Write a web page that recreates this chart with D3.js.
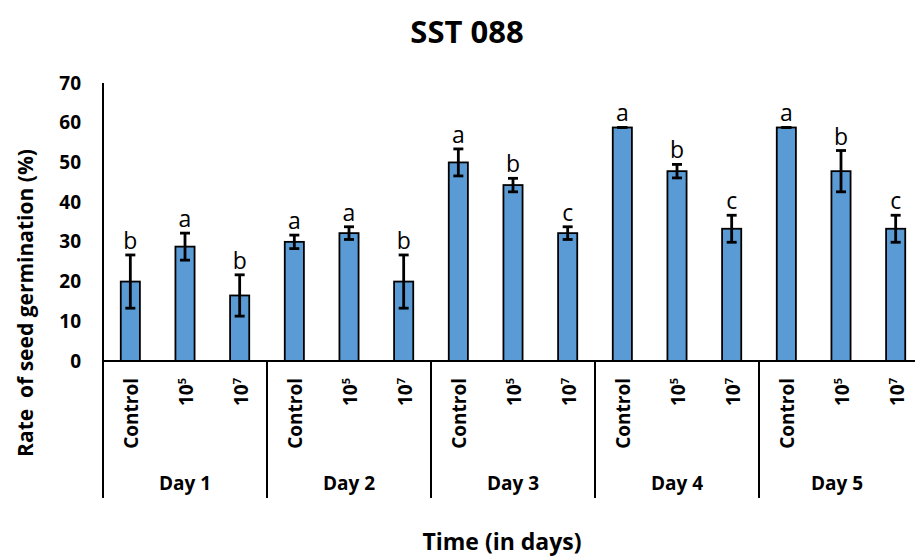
<!DOCTYPE html>
<html>
<head>
<meta charset="utf-8">
<script src="https://cdn.jsdelivr.net/npm/d3@7"></script>
<style>
  html, body { margin: 0; padding: 0; background: #fff; }
  svg { display: block; }
  text { font-family: "Open Sans", "DejaVu Sans", sans-serif; fill: #000; }
</style>
</head>
<body>
<svg id="chart" width="915" height="559"></svg>
<script>
// Germination data: one entry per day
const days = ["Day 1", "Day 2", "Day 3", "Day 4", "Day 5"];
const treatments = ["Control", "10^5", "10^7"];

const controlMean = [20.0, 30.0, 50.0, 58.8, 58.8];
const conc5Mean   = [28.8, 32.2, 44.3, 47.8, 47.8];
const conc7Mean   = [16.5, 20.0, 32.2, 33.3, 33.3];

const controlErr = [6.7, 1.7, 3.4, 0, 0];
const conc5Err   = [3.4, 1.6, 1.7, 1.7, 5.2];
const conc7Err   = [5.2, 6.7, 1.6, 3.4, 3.4];

const controlLetter = ["b", "a", "a", "a", "a"];
const conc5Letter   = ["a", "a", "b", "b", "b"];
const conc7Letter   = ["b", "b", "c", "c", "c"];

const yTicks = [0, 10, 20, 30, 40, 50, 60, 70];

const means = [controlMean, conc5Mean, conc7Mean];
const errs = [controlErr, conc5Err, conc7Err];
const letters = [controlLetter, conc5Letter, conc7Letter];

const rows = [];
days.forEach((d, di) => {
  treatments.forEach((t, ti) => {
    rows.push({ day: d, treat: t, mean: means[ti][di], err: errs[ti][di], letter: letters[ti][di] });
  });
});

const svg = d3.select("#chart");
const plotLeft = 103, plotRight = 923, plotTop = 83, plotBase = 361, axisBottom = 498;

const y = d3.scaleLinear().domain([0, 70]).range([plotBase, plotTop]);
const xDay = d3.scaleBand().domain(days).range([plotLeft, plotRight]).padding(0);
const xTreat = d3.scaleBand().domain(treatments).range([0, xDay.bandwidth()]).paddingInner(0.65).paddingOuter(0.325);

// Title
svg.append("text")
  .attr("x", 467).attr("y", 43)
  .attr("text-anchor", "middle")
  .style("font-size", "31px").style("font-weight", "bold")
  .text("SST 088");

// Y axis
const yAxis = d3.axisLeft(y).tickValues(yTicks).tickSize(0).tickPadding(22);
const yg = svg.append("g").attr("transform", `translate(${plotLeft},0)`).call(yAxis);
yg.select(".domain").remove();
yg.selectAll("text")
  .style("font-family", "'Open Sans', sans-serif")
  .style("font-size", "19px").style("font-weight", "bold").attr("fill", "#000");

svg.append("line")
  .attr("x1", plotLeft).attr("x2", plotLeft).attr("y1", plotTop).attr("y2", axisBottom)
  .attr("stroke", "#000").attr("stroke-width", 2);

// Bars
const bars = svg.append("g");
bars.selectAll("rect").data(rows).join("rect")
  .attr("x", d => xDay(d.day) + xTreat(d.treat))
  .attr("width", xTreat.bandwidth())
  .attr("y", d => y(d.mean))
  .attr("height", d => y(0) - y(d.mean))
  .attr("fill", "#5B9BD5")
  .attr("stroke", "#000").attr("stroke-width", 1.8);

// Error bars
const eb = svg.append("g").attr("stroke", "#000").attr("stroke-width", 2.8);
const cx = d => xDay(d.day) + xTreat(d.treat) + xTreat.bandwidth() / 2;
rows.forEach(d => {
  const g = eb.append("g");
  const yt = y(d.mean + d.err), yb = y(d.mean - d.err);
  g.append("line").attr("x1", cx(d)).attr("x2", cx(d)).attr("y1", yt).attr("y2", yb);
  g.append("line").attr("x1", cx(d) - 5).attr("x2", cx(d) + 5).attr("y1", yt).attr("y2", yt);
  g.append("line").attr("x1", cx(d) - 5).attr("x2", cx(d) + 5).attr("y1", yb).attr("y2", yb);
});

// Significance letters
svg.append("g").selectAll("text").data(rows).join("text")
  .attr("x", d => cx(d))
  .attr("y", d => y(d.mean + d.err) - 6)
  .attr("text-anchor", "middle")
  .style("font-size", "23px")
  .attr("fill", "#111")
  .text(d => d.letter);

// X axis baseline and group separators
svg.append("line")
  .attr("x1", plotLeft).attr("x2", plotRight).attr("y1", plotBase).attr("y2", plotBase)
  .attr("stroke", "#000").attr("stroke-width", 2);
svg.append("g").selectAll("line").data(days.slice(1).concat(["end"])).join("line")
  .attr("x1", d => d === "end" ? plotRight : xDay(d))
  .attr("x2", d => d === "end" ? plotRight : xDay(d))
  .attr("y1", plotBase).attr("y2", axisBottom)
  .attr("stroke", "#000").attr("stroke-width", 2);

// Treatment labels (rotated)
rows.forEach(d => {
  const t = svg.append("text")
    .attr("transform", `translate(${cx(d) + 8},378) rotate(-90)`)
    .attr("text-anchor", "end")
    .style("font-size", "19px").style("font-weight", "bold");
  if (d.treat === "Control") {
    t.text("Control");
  } else {
    const exp = d.treat.split("^")[1];
    t.append("tspan").text("10");
    t.append("tspan").attr("dy", -7).style("font-size", "11px").text(exp);
  }
});

// Day labels
svg.append("g").selectAll("text").data(days).join("text")
  .attr("x", d => xDay(d) + xDay.bandwidth() / 2 - (d === "Day 5" ? 4 : 0))
  .attr("y", 490)
  .attr("text-anchor", "middle")
  .style("font-size", "19px").style("font-weight", "bold")
  .text(d => d);

// Axis titles
svg.append("text")
  .attr("transform", "translate(33,303) rotate(-90)")
  .attr("text-anchor", "middle")
  .style("font-size", "21px").style("font-weight", "bold")
  .attr("xml:space", "preserve")
  .text("Rate  of seed germination (%)");

svg.append("text")
  .attr("x", 502).attr("y", 550)
  .attr("text-anchor", "middle")
  .style("font-size", "23px").style("font-weight", "bold")
  .text("Time (in days)");
</script>
</body>
</html>
